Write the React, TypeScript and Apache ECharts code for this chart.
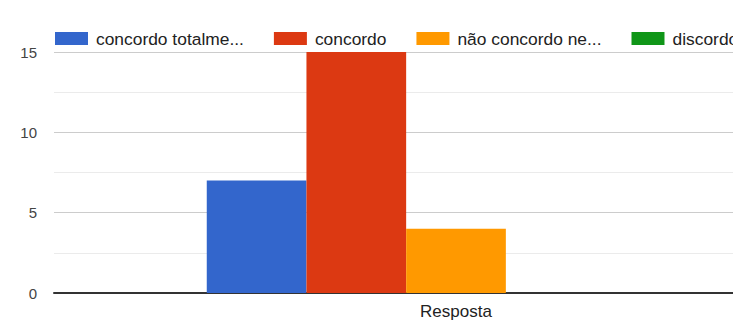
import React, { useEffect, useRef } from "react";
import * as echarts from "echarts";

const categories = ["Resposta"];
const seriesNames = [
  "concordo totalmente",
  "concordo",
  "não concordo nem discordo",
  "discordo",
  "discordo totalmente",
];
const legendLabels = [
  "concordo totalme...",
  "concordo",
  "não concordo ne...",
  "discordo",
  "discordo totalmente",
];
const values = [7, 15, 4, 0, 0];
const colors = ["#3366cc", "#dc3912", "#ff9900", "#109618", "#990099"];

export default function App() {
  const ref = useRef<HTMLDivElement>(null);
  useEffect(() => {
    if (!ref.current) return;
    const chart = echarts.init(ref.current, null, { renderer: "svg" });
    const font = "'Liberation Sans', Arial, sans-serif";
    chart.setOption({
      animation: false,
      backgroundColor: "#ffffff",
      legend: {
        left: 55,
        top: 30,
        padding: 0,
        width: 1500,
        itemWidth: 33,
        itemHeight: 13,
        itemGap: 30,
        icon: "rect",
        data: seriesNames,
        formatter: (name: string) => legendLabels[seriesNames.indexOf(name)],
        textStyle: { fontFamily: font, fontSize: 17.4, color: "#222", padding: [0, 0, 0, 3] },
      },
      grid: { left: 54, top: 52, width: 804, bottom: 27, outerBoundsMode: "none", containLabel: false },
      xAxis: {
        type: "category",
        data: categories,
        axisLine: { show: true, lineStyle: { color: "#333", width: 2 } },
        axisTick: { show: false },
        axisLabel: { fontFamily: font, fontSize: 17, color: "#222", margin: 10 },
      },
      yAxis: {
        type: "value",
        min: 0,
        max: 15,
        interval: 5,
        axisLine: { show: false },
        axisTick: { show: false },
        axisLabel: { fontFamily: font, fontSize: 15, color: "#444", margin: 17 },
        splitLine: { lineStyle: { color: "#cccccc", width: 1 } },
        minorTick: { show: false, splitNumber: 2 },
        minorSplitLine: { show: true, lineStyle: { color: "#ebebeb", width: 1 } },
      },
      series: seriesNames.map((name, i) => ({
        name,
        type: "bar",
        data: [values[i]],
        itemStyle: { color: colors[i] },
        barGap: "0%",
        barCategoryGap: "38%",
      })),
    });
    return () => chart.dispose();
  }, []);
  return <div ref={ref} style={{ width: 733, height: 320, position: "absolute", left: 0, top: 0 }} />;
}
